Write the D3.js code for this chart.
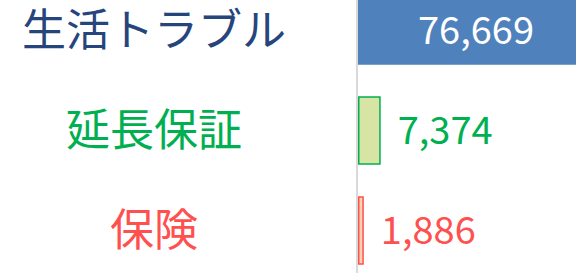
<!DOCTYPE html>
<html>
<head>
<meta charset="utf-8">
<script src="https://cdn.jsdelivr.net/npm/d3@7"></script>
<style>
  html, body { margin: 0; padding: 0; background: #fff; overflow: hidden; }
  svg { display: block; }
  text { font-family: "Noto Sans CJK JP", "Noto Sans", sans-serif; }
</style>
</head>
<body>
<svg id="chart"></svg>
<script>
// data
const categories = ["生活トラブル", "延長保証", "保険"];
const values = [76669, 7374, 1886];
const valueLabels = ["76,669", "7,374", "1,886"];

// per category styling
const barFill = ["#4F81BD", "#D7E4A4", "#FCD5B4"];
const barStroke = ["#4F81BD", "#00B050", "#FF5050"];
const labelColor = ["#26457C", "#00B050", "#FF5050"];
const valueColor = ["#FFFFFF", "#00B050", "#FF5050"];

const width = 576, height = 273;
const svg = d3.select("#chart").attr("width", width).attr("height", height);

// plot area is a bit taller than the window (top bar is cut off)
const x = d3.scaleLinear().domain([0, 76669]).range([358, 594]);
const y = d3.scaleBand()
  .domain(categories)
  .range([-19.5, 280.5])
  .paddingInner(0.33)
  .paddingOuter(0.165);

const rows = categories.map(function(c, i) {
  return {cat: c, value: values[i], label: valueLabels[i], i: i};
});

// bars
svg.selectAll("rect.bar")
  .data(rows)
  .enter()
  .append("rect")
  .attr("class", "bar")
  .attr("x", x(0) + 0.75)
  .attr("y", function(d) { return y(d.cat); })
  .attr("width", function(d) { return x(d.value) - x(0) - 1.5; })
  .attr("height", y.bandwidth())
  .attr("fill", function(d) { return barFill[d.i]; })
  .attr("stroke", function(d) { return barStroke[d.i]; })
  .attr("stroke-width", 1.5);

// vertical axis line
svg.append("line")
  .attr("x1", x(0) - 1).attr("x2", x(0) - 1)
  .attr("y1", 0).attr("y2", height)
  .attr("stroke", "#D9D9D9")
  .attr("stroke-width", 2);

// category labels
svg.selectAll("text.cat")
  .data(rows)
  .enter()
  .append("text")
  .attr("class", "cat")
  .attr("x", 154)
  .attr("y", function(d) { return y(d.cat) + y.bandwidth() / 2; })
  .attr("dy", "0.36em")
  .attr("text-anchor", "middle")
  .attr("font-size", 44)
  .attr("fill", function(d) { return labelColor[d.i]; })
  .text(function(d) { return d.cat; });

// value labels: first one centred inside the bar, others after the bar end
svg.selectAll("text.val")
  .data(rows)
  .enter()
  .append("text")
  .attr("class", "val")
  .attr("x", function(d) {
    return d.i === 0 ? (x(0) + x(d.value)) / 2 : x(d.value) + 17;
  })
  .attr("y", function(d) { return y(d.cat) + y.bandwidth() / 2; })
  .attr("dy", "0.36em")
  .attr("text-anchor", function(d) { return d.i === 0 ? "middle" : "start"; })
  .attr("font-size", 38)
  .attr("fill", function(d) { return valueColor[d.i]; })
  .text(function(d) { return d.label; });
</script>
</body>
</html>
